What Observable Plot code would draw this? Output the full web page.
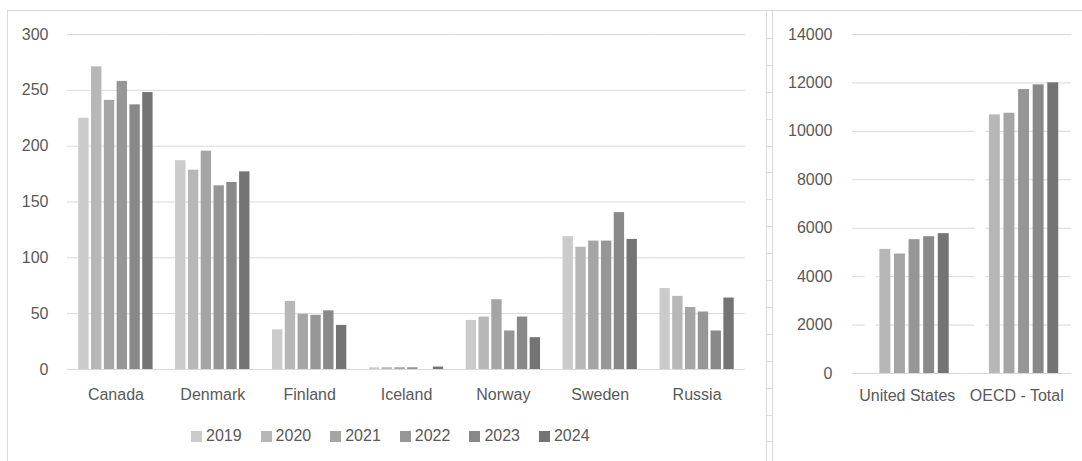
<!DOCTYPE html>
<html>
<head>
<meta charset="utf-8">
<script src="https://cdn.jsdelivr.net/npm/d3@7"></script>
<script src="https://cdn.jsdelivr.net/npm/@observablehq/plot@0.6"></script>
<style>
  html, body { margin: 0; padding: 0; background: #fff; }
  #wrap { position: relative; width: 1082px; height: 461px; overflow: hidden;
          font-family: "Liberation Sans", Arial, sans-serif; color: #595959; background: #fff; }
  #frameTop { position: absolute; left: 7px; top: 10px; width: 1075px; height: 0; border-top: 1px solid #d9d9d9; }
  #frameLeft { position: absolute; left: 7px; top: 10px; width: 0; height: 451px; border-left: 1px solid #d9d9d9; }
  #divider { position: absolute; left: 766px; top: 11px; width: 5px; height: 450px;
             border-left: 1px solid #d9d9d9; border-right: 1px solid #d9d9d9;
             background: repeating-linear-gradient(to bottom, transparent 0, transparent 25.9px, #dadde3 25.9px, #dadde3 26.9px);
             background-position: 0 1px; }
  #left { position: absolute; left: 0; top: 0; }
  #right { position: absolute; left: 772px; top: 0; }
  #legend { position: absolute; left: 191px; top: 427px; display: flex; align-items: center;
            font-size: 16px; line-height: 18px; color: #595959; white-space: nowrap; }
  #legend .item { display: flex; align-items: center; margin-right: 19px; }
  #legend .sw { width: 11px; height: 11px; margin-right: 4px; display: inline-block; }
</style>
</head>
<body>
<div id="wrap">
  <div id="frameTop"></div>
  <div id="frameLeft"></div>
  <div id="divider"></div>
  <div id="left"></div>
  <div id="right"></div>
  <div id="legend"></div>
</div>
<script>
// ---- Data ----
const countries = ["Canada", "Denmark", "Finland", "Iceland", "Norway", "Sweden", "Russia"];
const years = ["2019", "2020", "2021", "2022", "2023", "2024"];
const v2019 = [225, 187, 35.5, 1.5, 44, 119, 72.5];
const v2020 = [271, 178.5, 61, 1.6, 47, 109.5, 65.5];
const v2021 = [241, 195.5, 49.5, 1.6, 62.5, 115, 55.5];
const v2022 = [258, 164.5, 48.5, 1.6, 34.5, 115, 51.5];
const v2023 = [237, 167.5, 52.5, 0, 47, 140.5, 34.5];
const v2024 = [248, 177, 39.5, 2.2, 28.5, 116.5, 64];
const leftTicks = [0, 50, 100, 150, 200, 250, 300];

const regions = ["United States", "OECD - Total"];
const r2019 = [5100, 10550];   // drawn in white in the reference
const r2020 = [5126, 10681];
const r2021 = [4935, 10749];
const r2022 = [5527, 11727];
const r2023 = [5650, 11920];
const r2024 = [5775, 12004];
const rightTicks = [0, 2000, 4000, 6000, 8000, 10000, 12000, 14000];

const yearColors = ["#cbcbcb", "#b7b7b7", "#a5a5a5", "#969696", "#898989", "#747474"];
const rightColors = ["#ffffff", "#b7b7b7", "#a5a5a5", "#969696", "#898989", "#747474"];

// ---- Tables ----
const leftSeries = [v2019, v2020, v2021, v2022, v2023, v2024];
const leftData = [];
countries.forEach((c, i) => years.forEach((y, j) => leftData.push({country: c, year: y, value: leftSeries[j][i]})));
const rightSeries = [r2019, r2020, r2021, r2022, r2023, r2024];
const rightData = [];
regions.forEach((c, i) => years.forEach((y, j) => rightData.push({country: c, year: y, value: rightSeries[j][i]})));

const FONT = '"Liberation Sans", Arial, sans-serif';
const baseStyle = {fontFamily: FONT, fontSize: "16px", color: "#595959", background: "transparent", overflow: "visible"};

const left = Plot.plot({
  width: 760, height: 410,
  marginLeft: 67, marginRight: 15, marginTop: 34, marginBottom: 41,
  style: baseStyle,
  fx: {domain: countries, padding: 0, round: false, axis: "bottom", label: null, tickSize: 0, tickPadding: 19},
  x: {domain: years, paddingInner: 0.19, paddingOuter: 0.88, round: false, axis: null},
  y: {domain: [0, 300], ticks: leftTicks, tickSize: 0, tickPadding: 19, label: null, axis: "left"},
  color: {domain: years, range: yearColors},
  marks: [
    Plot.ruleY(leftTicks, {stroke: "#d9d9d9", strokeWidth: 1}),
    Plot.barY(leftData, {fx: "country", x: "year", y: "value", fill: "year"})
  ]
});
document.getElementById("left").appendChild(left);

const right = Plot.plot({
  width: 310, height: 410,
  marginLeft: 80, marginRight: 11, marginTop: 34, marginBottom: 37,
  style: baseStyle,
  fx: {domain: regions, padding: 0, round: false, axis: "bottom", label: null, tickSize: 0, tickPadding: 16},
  x: {domain: years, paddingInner: 0.25, paddingOuter: 0.875, round: false, axis: null},
  y: {domain: [0, 14000], ticks: rightTicks, tickSize: 0, tickPadding: 20, label: null, axis: "left", tickFormat: d => String(d)},
  color: {domain: years, range: rightColors},
  marks: [
    Plot.ruleY(rightTicks, {stroke: "#d9d9d9", strokeWidth: 1}),
    Plot.barY(rightData, {fx: "country", x: "year", y: "value", fill: "year"})
  ]
});
document.getElementById("right").appendChild(right);

// ---- Legend ----
const legend = document.getElementById("legend");
years.forEach((y, i) => {
  const item = document.createElement("div");
  item.className = "item";
  const sw = document.createElement("span");
  sw.className = "sw";
  sw.style.background = yearColors[i];
  const t = document.createElement("span");
  t.textContent = y;
  item.appendChild(sw);
  item.appendChild(t);
  legend.appendChild(item);
});
</script>
</body>
</html>
